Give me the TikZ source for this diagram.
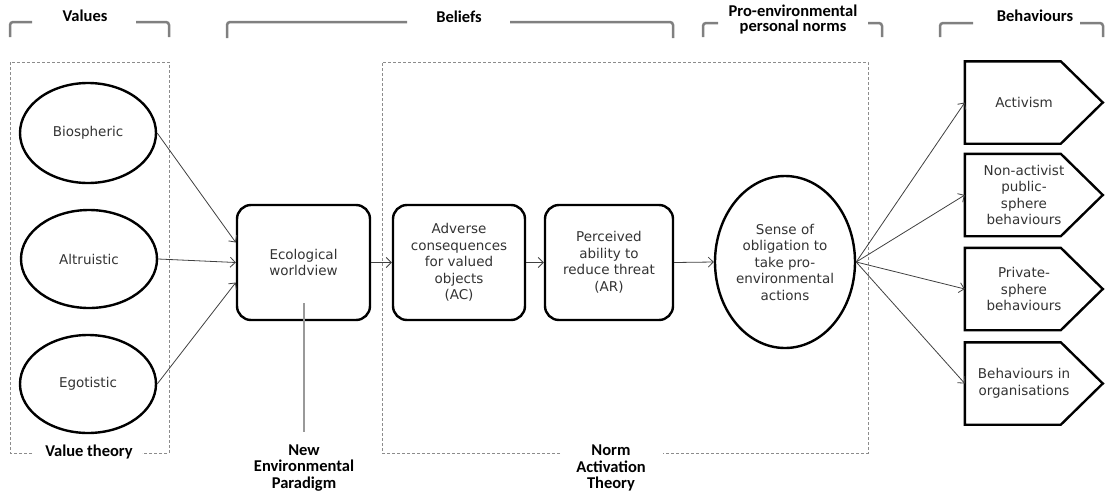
\documentclass[tikz,border=0pt]{standalone}
\usepackage{fontspec}
\setmainfont{DejaVu Sans}
\newfontfamily\headfont{Carlito}
\usetikzlibrary{shapes.geometric,arrows.meta}
\begin{document}
\begin{tikzpicture}[x=1pt,y=-1pt,
  every node/.style={inner sep=0pt},
  txt/.style={font=\fontsize{13.5}{16.5}\selectfont, text=black!80, align=center},
  oval/.style={ellipse, draw, line width=2.4pt, txt},
  rbox/.style={rectangle, rounded corners=14pt, draw, line width=2.4pt, txt, minimum height=115pt},
  bbox/.style={txt, minimum width=118pt, minimum height=82pt},
  head/.style={font=\headfont\bfseries\fontsize{16.5}{16.5}\selectfont, align=center},
  brk/.style={draw=black!50, line width=2.5pt, rounded corners=3pt},
  dbox/.style={draw=black!45, line width=0.8pt, dash pattern=on 3pt off 2pt},
  conn/.style={draw=black!75, line width=0.8pt, -{Straight Barb[length=5pt,width=10pt]}},
  pent/.style={draw, line width=2.4pt, line join=miter},
]
\useasboundingbox (0,0) rectangle (1106,493);

% brackets and headings
\draw[brk] (10,37) -- (10,22) -- (32,22);
\draw[brk] (136,22) -- (169,22) -- (169,37);
\node[head] (hval) at (85,16) {Values};
\draw[brk] (227,38) -- (227,22) -- (407,22);
\draw[brk] (510,22) -- (673,22) -- (673,38);
\node[head] (hbel) at (459,17) {Beliefs};
\draw[brk] (703,37) -- (703,23) -- (718,23);
\draw[brk] (868,23) -- (882,23) -- (882,37);
\node[head, font=\headfont\bfseries\fontsize{16.5}{15}\selectfont] (hpen) at (793,20) {Pro-environmental\\personal norms};
\draw[brk] (940,37) -- (940,23) -- (973,23);
\draw[brk] (1080,23) -- (1103,23) -- (1103,37);
\node[head] (hbeh) at (1035,16) {Behaviours};

% dashed theory boxes
\draw[dbox] (32,453) -- (10,453) -- (10,62) -- (169,62) -- (169,453) -- (142,453);
\node[head] (vt) at (89,452) {Value theory};
\draw[dbox] (560,453) -- (382,453) -- (382,62) -- (868,62) -- (868,453) -- (663,453);
\node[head] (nat) at (611,468) {Norm\\Activation\\Theory};
\node[head] (nep) at (304,468) {New\\Environmental\\Paradigm};

% values
\node[oval, minimum width=136pt, minimum height=100pt] (bio) at (88,133) {Biospheric};
\node[oval, minimum width=136pt, minimum height=98pt] (alt) at (89,259) {Altruistic};
\node[oval, minimum width=136pt, minimum height=98pt] (ego) at (88,384) {Egotistic};

% beliefs
\node[rbox, minimum width=133pt] (eco) at (303.5,262.5) {Ecological\\worldview};
\node[rbox, minimum width=132pt] (ac) at (459,262.5) {Adverse\\consequences\\for valued\\objects\\(AC)};
\node[rbox, minimum width=128pt] (ar) at (609,262.5) {Perceived\\ability to\\reduce threat\\(AR)};

% norm
\node[oval, minimum width=140pt, minimum height=172pt] (son) at (785,262) {Sense of\\obligation to\\take pro-\\environmental\\actions};

% behaviours
\node[bbox] (act) at (1024,102.5) {Activism};
\node[bbox] (nap) at (1024,195) {Non-activist\\public-\\sphere\\behaviours};
\node[bbox] (prv) at (1024,289) {Private-\\sphere\\behaviours};
\node[bbox] (org) at (1024,383.5) {Behaviours in\\organisations};
\foreach \b in {act,nap,prv,org}{
  \draw[pent] (\b.north west) -- ++(96,0) -- ([xshift=138pt]\b.west) -- ([xshift=96pt]\b.south west) -- (\b.south west) -- cycle;
}

% NEP line
\coordinate (neptop) at (304,303);
\coordinate (nepbot) at (304,432);
\draw[draw=black!40, line width=1.2pt] (neptop) -- (nepbot);

% connectors
\draw[conn] (bio.east) -- ([yshift=20pt]eco.west);
\draw[conn] (alt.east) -- (eco.west);
\draw[conn] (ego.east) -- ([yshift=-20pt]eco.west);
\draw[conn] (eco.east) -- (ac.west);
\draw[conn] (ac.east) -- (ar.west);
\draw[conn] (ar.east) -- (son.west);
\draw[conn] (son.east) -- (act.west);
\draw[conn] (son.east) -- (nap.west);
\draw[conn] (son.east) -- (prv.west);
\draw[conn] (son.east) -- (org.west);
\end{tikzpicture}
\end{document}
